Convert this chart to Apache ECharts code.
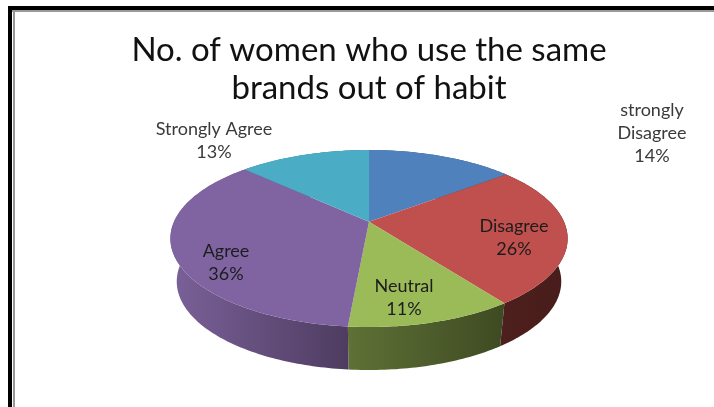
<!DOCTYPE html>
<html><head><meta charset="utf-8">
<style>html,body{margin:0;padding:0;background:#fff}#c{width:714px;height:407px}</style>
<script src="https://cdn.jsdelivr.net/npm/echarts@6/dist/echarts.min.js"></script>
</head><body><div id="c"></div>
<script>
const titleText = "No. of women who use the same\nbrands out of habit";
const categories = ["strongly\nDisagree", "Disagree", "Neutral", "Agree", "Strongly Agree"];
const shares = [14.4, 25.6, 11.4, 35.8, 12.8];
const topColors = ["#4f81bd", "#c0504d", "#9bbb59", "#8064a2", "#4bacc6"];
const wallColors = [["#3a5f8c","#2c4a6e"],["#4e201d","#471c1a"],["#5f7136","#3e4a22"],["#7a6199","#4e3c60"],["#3a8296","#2c6676"]];
const labelPos = [[652,133.5],[514,238],[404,297.5],[226,263],[214,141]];

const total = shares.reduce((a,b)=>a+b,0);
const cx=369, cy=221.7, R=195, H=85.3, K=0.19, DEPTH=43, BASE=0.968;
function proj(deg){
  const t=deg*Math.PI/180, x=Math.sin(t), y=Math.cos(t), s=1/(1+K*y);
  return [cx+R*x*s, cy-H*y*s];
}
function arc(i){
  let sum=0; for(let k=0;k<i;k++) sum+=shares[k];
  const a=sum/total*360, b=(sum+shares[i])/total*360, pts=[];
  const n=Math.max(2,Math.ceil(b-a));
  for(let j=0;j<=n;j++) pts.push(proj(a+(b-a)*j/n));
  return pts;
}
function wallItem(p,api){
  const i=p.dataIndex, top=arc(i);
  const low=top.slice().reverse().map(q=>[cx+(q[0]-cx)*BASE,q[1]+DEPTH]);
  return {type:'polygon',shape:{points:top.concat(low)},
    style:{fill:new echarts.graphic.LinearGradient(0,0,1,0,[{offset:0,color:wallColors[i][0]},{offset:1,color:wallColors[i][1]}])}};
}
function topItem(p,api){
  const i=p.dataIndex;
  return {type:'polygon',shape:{points:[[cx,cy]].concat(arc(i))},style:{fill:topColors[i]}};
}
function labelItem(p,api){
  const i=p.dataIndex, v=Math.round(api.value(0));
  return {type:'text',x:labelPos[i][0],y:labelPos[i][1],
    style:{text:categories[i]+"\n"+v+"%",align:'center',verticalAlign:'middle',
      font:'18px Lato',lineHeight:23,fill:i===0||i===4?'#3a3a3a':'#1c1c1c'}};
}
const rows=shares.map(v=>[v]);
const chart=echarts.init(document.getElementById('c'),null,{renderer:'canvas'});
chart.setOption({
  animation:false,
  backgroundColor:'#fff',
  title:{text:titleText,left:364,top:26,textAlign:'center',
    textStyle:{fontFamily:'Lato',fontSize:33,fontWeight:'normal',color:'#111',lineHeight:38}},
  graphic:[
    {type:'rect',shape:{x:8,y:6,width:4,height:401},style:{fill:'#000'},z:10},
    {type:'rect',shape:{x:8,y:6,width:706,height:4},style:{fill:'#000'},z:10},
    {type:'rect',shape:{x:13,y:10,width:2,height:397},style:{fill:'#999'},z:10},
    {type:'rect',shape:{x:12,y:10,width:702,height:2},style:{fill:'#999'},z:10}
  ],
  series:[
    {type:'custom',coordinateSystem:'none',data:rows,renderItem:wallItem,z:1,silent:true},
    {type:'custom',coordinateSystem:'none',data:rows,renderItem:topItem,z:2,silent:true},
    {type:'custom',coordinateSystem:'none',data:rows,renderItem:labelItem,z:3,silent:true}
  ]
});
</script></body></html>
